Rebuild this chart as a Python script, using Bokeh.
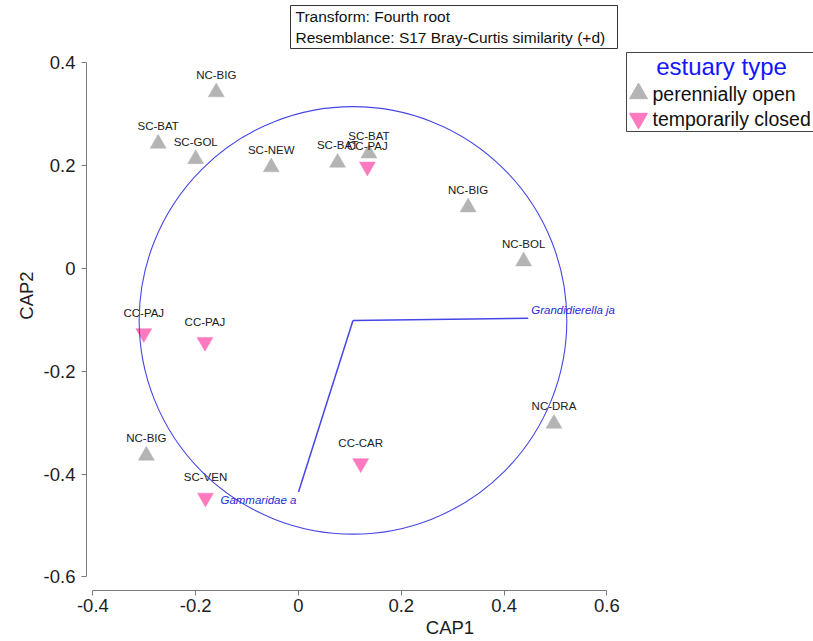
from bokeh.plotting import figure
from bokeh.models import Range1d, BoxAnnotation, Label, ColumnDataSource, FixedTicker
from bokeh.core.properties import value
from bokeh.embed import file_html
from bokeh.resources import INLINE

# ---------------- data ----------------
site_labels = ["NC-BIG", "SC-BAT", "SC-GOL", "SC-NEW", "SC-BAT", "SC-BAT", "CC-PAJ",
               "NC-BIG", "NC-BOL", "CC-PAJ", "CC-PAJ", "NC-DRA", "NC-BIG", "CC-CAR", "SC-VEN"]
estuary_type = ["perennially open", "perennially open", "perennially open", "perennially open",
                "perennially open", "perennially open", "temporarily closed",
                "perennially open", "perennially open", "temporarily closed", "temporarily closed",
                "perennially open", "perennially open", "temporarily closed", "temporarily closed"]
cap1 = [-0.160, -0.273, -0.200, -0.053, 0.076, 0.137, 0.134,
        0.330, 0.438, -0.301, -0.182, 0.497, -0.296, 0.121, -0.181]
cap2 = [0.343, 0.243, 0.213, 0.197, 0.206, 0.224, 0.198,
        0.119, 0.014, -0.126, -0.143, -0.302, -0.364, -0.379, -0.446]

legend_types = ["perennially open", "temporarily closed"]

vector_names = ["Grandidierella ja", "Gammaridae a"]
vector_x = [0.447, 0.000]
vector_y = [-0.097, -0.435]
vector_origin = (0.106, -0.101)
circle_radius = 0.416

x_ticks = [-0.4, -0.2, 0.0, 0.2, 0.4, 0.6]
x_tick_labels = ["-0.4", "-0.2", "0", "0.2", "0.4", "0.6"]
y_ticks = [-0.6, -0.4, -0.2, 0.0, 0.2, 0.4]
y_tick_labels = ["-0.6", "-0.4", "-0.2", "0", "0.2", "0.4"]

transform_text = ["Transform: Fourth root", "Resemblance: S17 Bray-Curtis similarity (+d)"]

# ---------------- styles ----------------
FONT = "Liberation Sans"
GRAY = "#b4b4b4"
PINK = "#ff79bf"
BLUE_LINE = "#4646e6"
BLUE_TEXT = "#2a2ad2"
type_marker = {"perennially open": "triangle", "temporarily closed": "inverted_triangle"}
type_color = {"perennially open": GRAY, "temporarily closed": PINK}
type_label_off = {"perennially open": -17.5, "temporarily closed": -20.5}

# pixel -> data helpers (fixed frame: 514 px per unit)
SCALE = 514.0
X0_PX, Y0_PX = 298.0, 268.0
LEFT_PX, BOTTOM_PX = 86, 590


def dx(px):
    return (px - X0_PX) / SCALE


def dy(py):
    return (Y0_PX - py) / SCALE


p = figure(frame_width=813 - LEFT_PX, frame_height=BOTTOM_PX,
           x_range=Range1d(dx(LEFT_PX), dx(813)), y_range=Range1d(dy(BOTTOM_PX), dy(0)),
           output_backend="svg", toolbar_location=None,
           min_border_left=LEFT_PX, min_border_bottom=641 - BOTTOM_PX,
           min_border_top=0, min_border_right=0,
           x_axis_label="CAP1", y_axis_label="CAP2")
p.grid.visible = False
p.outline_line_color = None
p.background_fill_color = "white"
p.border_fill_color = "white"

for ax, ticks, labs, b in ((p.xaxis[0], x_ticks, x_tick_labels, (-0.4, 0.6)),
                           (p.yaxis[0], y_ticks, y_tick_labels, (-0.6, 0.4))):
    ax.ticker = FixedTicker(ticks=ticks)
    ax.major_label_overrides = {t: l for t, l in zip(ticks, labs)}
    ax.bounds = b
    ax.axis_line_color = "#7a7a7a"
    ax.major_tick_line_color = "#7a7a7a"
    ax.minor_tick_line_color = None
    ax.major_tick_out = 5
    ax.major_tick_in = 0
    ax.major_label_text_font = FONT
    ax.major_label_text_font_size = "18.5px"
    ax.major_label_text_color = "#1e1e1e"
    ax.axis_label_text_font = FONT
    ax.axis_label_text_font_size = "18.5px"
    ax.axis_label_text_font_style = "normal"
    ax.axis_label_text_color = "#1e1e1e"
p.xaxis.major_label_standoff = 3
p.xaxis.axis_label_standoff = 2
p.yaxis.major_label_standoff = 6
p.yaxis.axis_label_standoff = 4

# ---------------- points ----------------
src = ColumnDataSource(dict(
    x=cap1, y=cap2, label=site_labels, kind=estuary_type,
    marker=[type_marker[t] for t in estuary_type],
    color=[type_color[t] for t in estuary_type],
    yoff=[type_label_off[t] for t in estuary_type],
))
p.scatter(x="x", y="y", marker="marker", size=16, fill_color="color",
          line_color="color", line_width=0.5, source=src)
p.text(x="x", y="y", text="label", source=src, y_offset="yoff",
       text_font=value(FONT), text_font_size=value("11.5px"), text_color="#202020",
       text_align="center", text_baseline="middle")

# ---------------- vectors & circle ----------------
p.circle(x=[vector_origin[0]], y=[vector_origin[1]], radius=circle_radius,
         fill_color=None, line_color=BLUE_LINE, line_width=1.1)
ox, oy = vector_origin
p.segment(x0=[ox] * len(vector_x), y0=[oy] * len(vector_y), x1=vector_x, y1=vector_y,
          line_color=BLUE_LINE, line_width=1.5)
vsrc = ColumnDataSource(dict(x=vector_x, y=vector_y, name=vector_names,
                             align=["left", "right"], xo=[3, -2], yo=[-8, 7.5]))
p.text(x="x", y="y", text="name", source=vsrc, x_offset="xo", y_offset="yo",
       text_align="align", text_baseline="middle",
       text_font=value(FONT), text_font_size=value("11.5px"),
       text_font_style="italic", text_color=BLUE_TEXT)

# ---------------- transform box ----------------
p.add_layout(BoxAnnotation(left=dx(290), right=dx(617), top=dy(5), bottom=dy(48),
                           fill_color="white", fill_alpha=1.0,
                           line_color="#333333", line_width=1, line_alpha=1.0))
for i, t in enumerate(transform_text):
    p.add_layout(Label(x=dx(295), y=dy(16 + 21 * i), text=t, text_font=FONT,
                       text_font_size="15.5px", text_color="#111111",
                       text_baseline="middle", text_align="left"))

# ---------------- legend ----------------
p.add_layout(BoxAnnotation(left=dx(626), right=dx(830), top=dy(52), bottom=dy(131),
                           fill_color="white", fill_alpha=1.0,
                           line_color="#444444", line_width=1, line_alpha=1.0))
p.add_layout(Label(x=dx(721), y=dy(66), text="estuary type", text_font=FONT,
                   text_font_size="24px", text_color="#1414ff",
                   text_align="center", text_baseline="middle"))
lsrc = ColumnDataSource(dict(
    x=[dx(638)] * len(legend_types), y=[dy(93 + 25 * i) for i in range(len(legend_types))],
    marker=[type_marker[t] for t in legend_types],
    color=[type_color[t] for t in legend_types], name=legend_types))
p.scatter(x="x", y="y", marker="marker", size=18, fill_color="color",
          line_color="color", source=lsrc, level="overlay")
p.text(x="x", y="y", text="name", source=lsrc, x_offset=14,
       text_font=value(FONT), text_font_size=value("19.5px"), text_color="#111111",
       text_align="left", text_baseline="middle", level="overlay")

open("out.html", "w").write(file_html(p, INLINE))
